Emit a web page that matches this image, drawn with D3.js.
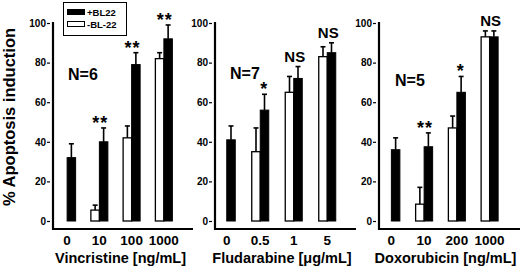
<!DOCTYPE html>
<html>
<head>
<meta charset="utf-8">
<script src="https://cdn.jsdelivr.net/npm/d3@7"></script>
<style>
  body { margin: 0; background: #fff; }
  svg { display: block; font-family: "Liberation Sans", Arial, sans-serif; font-weight: bold; }
</style>
</head>
<body>
<svg id="chart" width="520" height="272"></svg>
<script>
// values (% apoptosis induction)
const vincDoses = ["0", "10", "100", "1000"];
const vincPlus = [32, 40, 79, 92];
const vincPlusErr = [7, 7, 6, 7];
const vincMinus = [0, 5.5, 42, 82];
const vincMinusErr = [0, 2.5, 6, 3];
const vincSig = ["", "**", "**", "**"];

const fludaDoses = ["0", "0.5", "1", "5"];
const fludaPlus = [41, 56, 72, 85];
const fludaPlusErr = [7, 8, 6, 5];
const fludaMinus = [0, 35, 65, 83];
const fludaMinusErr = [0, 12, 8, 5];
const fludaSig = ["", "*", "NS", "NS"];

const doxoDoses = ["0", "10", "200", "1000"];
const doxoPlus = [36, 37.5, 65, 93];
const doxoPlusErr = [6, 7, 8, 3];
const doxoMinus = [0, 8.5, 47, 93];
const doxoMinusErr = [0, 8.5, 6, 3];
const doxoSig = ["", "**", "*", "NS"];

const yTicks = [0, 20, 40, 60, 80, 100];

const panels = [
  { doses: vincDoses, plus: vincPlus, plusErr: vincPlusErr, minus: vincMinus, minusErr: vincMinusErr,
    sig: vincSig, title: "Vincristine [ng/mL]", n: "N=6", axisX: 53, axisEnd: 193, band: [51, 180], nPos: [68, 80] },
  { doses: fludaDoses, plus: fludaPlus, plusErr: fludaPlusErr, minus: fludaMinus, minusErr: fludaMinusErr,
    sig: fludaSig, title: "Fludarabine [\u03bcg/mL]", n: "N=7", axisX: 215, axisEnd: 356, band: [210, 344], nPos: [230, 79] },
  { doses: doxoDoses, plus: doxoPlus, plusErr: doxoPlusErr, minus: doxoMinus, minusErr: doxoMinusErr,
    sig: doxoSig, title: "Doxorubicin [ng/mL]", n: "N=5", axisX: 379, axisEnd: 520, band: [375, 506], nPos: [395, 86] }
];

const svg = d3.select("#chart");
const y = d3.scaleLinear().domain([0, 100]).range([221, 23]);
const baseY = 229;
const barW = 8.5;

panels.forEach(p => {
  const x = d3.scaleBand().domain(p.doses).range(p.band);
  const g = svg.append("g");

  // y axis
  const ya = g.append("g")
    .attr("transform", `translate(${p.axisX - 3},0)`)
    .call(d3.axisLeft(y).tickValues(yTicks).tickSize(3).tickPadding(1));
  ya.select(".domain").remove();
  ya.selectAll("line").attr("stroke", "#000").attr("stroke-width", 1.2);
  ya.selectAll("text").attr("font-size", 10).attr("font-weight", "bold").attr("font-family", "Liberation Sans, Arial, sans-serif");

  g.append("line").attr("x1", p.axisX).attr("x2", p.axisX).attr("y1", y(100) - 1).attr("y2", baseY + 1)
    .attr("stroke", "#000").attr("stroke-width", 2.2);
  g.append("line").attr("x1", p.axisX).attr("x2", p.axisEnd).attr("y1", baseY).attr("y2", baseY)
    .attr("stroke", "#000").attr("stroke-width", 2.2);

  // x tick labels
  g.selectAll(".xl").data(p.doses).enter().append("text")
    .attr("x", d => x(d) + x.bandwidth() / 2).attr("y", 245)
    .attr("text-anchor", "middle").attr("font-size", 13.5).text(d => d);

  g.append("text").attr("x", (p.band[0] + p.band[1]) / 2 + 5).attr("y", 263)
    .attr("text-anchor", "middle").attr("font-size", 14.5).text(p.title);

  const idx = d3.range(p.doses.length);
  const cx = i => x(p.doses[i]) + x.bandwidth() / 2;

  // error bars (upper only)
  function errs(vals, es, off) {
    idx.filter(i => es[i] > 0).forEach(i => {
      const xc = cx(i) + off;
      g.append("line").attr("x1", xc).attr("x2", xc).attr("y1", y(vals[i])).attr("y2", y(vals[i] + es[i]))
        .attr("stroke", "#000").attr("stroke-width", 1.6);
      g.append("line").attr("x1", xc - 2.5).attr("x2", xc + 2.5).attr("y1", y(vals[i] + es[i])).attr("y2", y(vals[i] + es[i]))
        .attr("stroke", "#000").attr("stroke-width", 1.6);
    });
  }
  errs(p.minus, p.minusErr, -barW / 2);
  errs(p.plus, p.plusErr, barW / 2);

  // -BL22 bars (white)
  g.selectAll(".bm").data(idx).enter().append("rect")
    .attr("x", i => cx(i) - barW).attr("width", barW)
    .attr("y", i => y(p.minus[i])).attr("height", i => y(0) - y(p.minus[i]))
    .attr("fill", "#fff").attr("stroke", "#000").attr("stroke-width", 1.3);
  // +BL22 bars (black)
  g.selectAll(".bp").data(idx).enter().append("rect")
    .attr("x", i => cx(i)).attr("width", barW)
    .attr("y", i => y(p.plus[i])).attr("height", i => y(0) - y(p.plus[i]))
    .attr("fill", "#000").attr("stroke", "#000").attr("stroke-width", 1);

  // significance marks
  idx.filter(i => p.sig[i]).forEach(i => {
    const top = Math.max(p.plus[i] + p.plusErr[i], p.minus[i] + p.minusErr[i]);
    const isStar = p.sig[i].startsWith("*");
    g.append("text").attr("x", cx(i) + (p.sig[i] === "*" ? 4 : 1))
      .attr("y", y(top) - (isStar ? -1 : 5))
      .attr("text-anchor", "middle")
      .attr("font-size", isStar ? 18 : 15)
      .attr("letter-spacing", isStar ? 1 : 0)
      .text(p.sig[i]);
  });

  g.append("text").attr("x", p.nPos[0]).attr("y", p.nPos[1]).attr("font-size", 16).text(p.n);
});

// y label
svg.append("text").attr("transform", "translate(15,117) rotate(-90)")
  .attr("text-anchor", "middle").attr("font-size", 16.5).text("% Apoptosis induction");

// legend
const lg = svg.append("g");
lg.append("rect").attr("x", 63.5).attr("y", 2.5).attr("width", 63).attr("height", 33)
  .attr("fill", "#fff").attr("stroke", "#000").attr("stroke-width", 1);
lg.append("rect").attr("x", 67).attr("y", 9).attr("width", 18).attr("height", 6).attr("fill", "#000");
lg.append("rect").attr("x", 67.5).attr("y", 21.5).attr("width", 17).attr("height", 5)
  .attr("fill", "#fff").attr("stroke", "#000").attr("stroke-width", 1);
lg.append("text").attr("x", 87).attr("y", 16).attr("font-size", 9.5).text("+BL22");
lg.append("text").attr("x", 87).attr("y", 28).attr("font-size", 9.5).text("-BL-22");
</script>
</body>
</html>
